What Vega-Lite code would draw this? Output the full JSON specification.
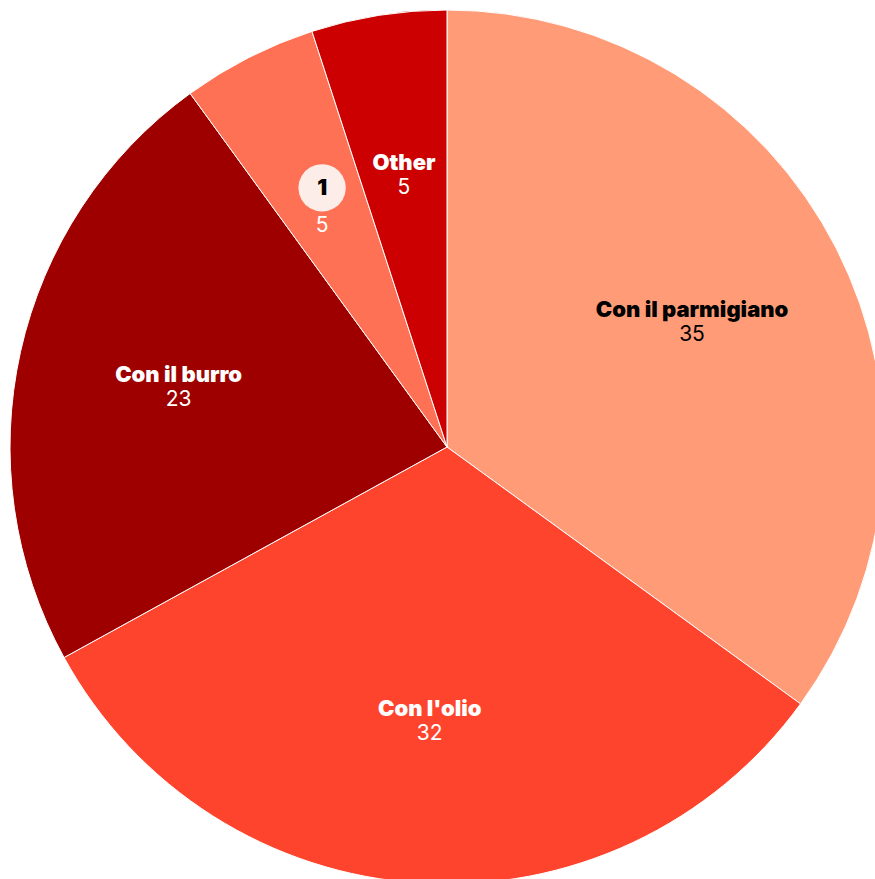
{
  "$schema": "https://vega.github.io/schema/vega-lite/v6.json",
  "width": 894,
  "height": 894,
  "autosize": {"type": "none"},
  "padding": 0,
  "background": "white",
  "view": {"stroke": null},
  "data": {
    "values": [
      {"name": "Con il parmigiano", "value": 35, "order": 1},
      {"name": "Con l'olio", "value": 32, "order": 2},
      {"name": "Con il burro", "value": 23, "order": 3},
      {"name": "1", "value": 5, "order": 4},
      {"name": "Other", "value": 5, "order": 5}
    ]
  },
  "encoding": {
    "theta": {"field": "value", "type": "quantitative", "stack": true},
    "order": {"field": "order", "type": "quantitative"}
  },
  "layer": [
    {
      "mark": {"type": "arc", "radius": 437, "stroke": "white", "strokeWidth": 1},
      "encoding": {
        "color": {
          "field": "name",
          "type": "nominal",
          "scale": {
            "domain": ["Con il parmigiano", "Con l'olio", "Con il burro", "1", "Other"],
            "range": ["#FF9B76", "#FF442E", "#9E0000", "#FF7154", "#CC0000"]
          },
          "legend": null
        }
      }
    },
    {
      "mark": {"type": "text", "radius": 275, "dy": -12, "font": "Inter", "fontSize": 22, "fontWeight": 900},
      "encoding": {
        "text": {"condition": {"test": "datum.name == '1'", "value": ""}, "field": "name"},
        "color": {"condition": {"test": "datum.name == 'Con il parmigiano'", "value": "black"}, "value": "white"}
      }
    },
    {
      "mark": {"type": "text", "radius": 275, "dy": 13, "font": "Inter", "fontSize": 21, "fontWeight": "normal"},
      "encoding": {
        "text": {"condition": {"test": "datum.name == '1'", "value": ""}, "field": "value"},
        "color": {"condition": {"test": "datum.name == 'Con il parmigiano'", "value": "black"}, "value": "white"}
      }
    },
    {
      "mark": {"type": "text", "radius": 275, "dy": -17, "font": "DejaVu Sans", "fontSize": 62, "color": "#FDEDE9"},
      "encoding": {
        "text": {"condition": {"test": "datum.name == '1'", "value": "●"}, "value": ""}
      }
    },
    {
      "mark": {"type": "text", "radius": 275, "dy": -14, "font": "Inter", "fontSize": 22, "fontWeight": 900, "color": "black"},
      "encoding": {
        "text": {"condition": {"test": "datum.name == '1'", "field": "name"}, "value": ""}
      }
    },
    {
      "mark": {"type": "text", "radius": 275, "dy": 24, "font": "Inter", "fontSize": 21, "fontWeight": "normal", "color": "white"},
      "encoding": {
        "text": {"condition": {"test": "datum.name == '1'", "field": "value"}, "value": ""}
      }
    }
  ]
}
